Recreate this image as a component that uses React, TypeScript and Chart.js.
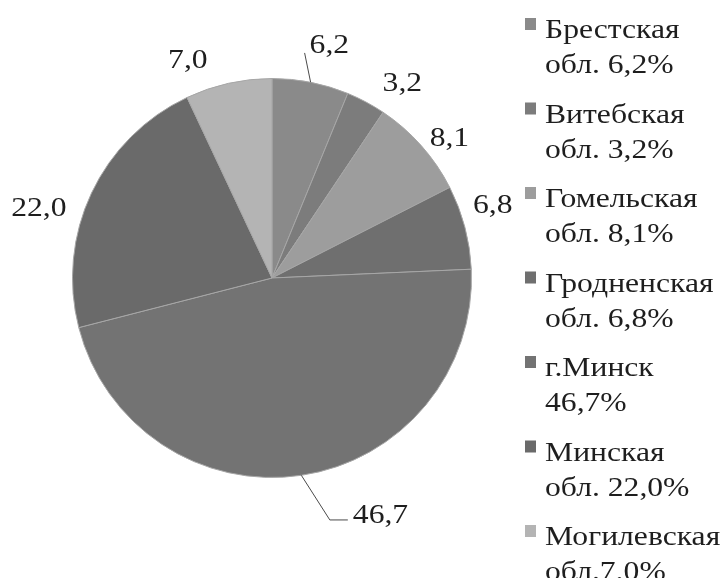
import React, { useEffect, useRef } from "react";
import { Chart, registerables } from "chart.js";

Chart.register(...registerables);

const categories = [
  "Брестская обл.",
  "Витебская обл.",
  "Гомельская обл.",
  "Гродненская обл.",
  "г.Минск",
  "Минская обл.",
  "Могилевская обл.",
];
const shares = [6.2, 3.2, 8.1, 6.8, 46.7, 22.0, 7.0];
const legendLines = [
  ["Брестская", "обл. 6,2%"],
  ["Витебская", "обл. 3,2%"],
  ["Гомельская", "обл. 8,1%"],
  ["Гродненская", "обл. 6,8%"],
  ["г.Минск", "46,7%"],
  ["Минская", "обл. 22,0%"],
  ["Могилевская", "обл.7,0%"],
];

// styling
const sliceColors = ["#8a8a8a", "#7c7c7c", "#9d9d9d", "#6f6f6f", "#737373", "#6a6a6a", "#b4b4b4"];
const labelNudges = [
  [12, -5],
  [20, 10],
  [2, 14],
  [-6, -15],
  [74, 3],
  [-21, 28],
  [-33, 9],
];
const leaderKinds = ["straight", "", "", "", "elbow", "", ""];
const FONT = '28px "Liberation Serif", "Times New Roman", serif';
const SX = 1.13;

const labelPlugin = {
  id: "pieLabels",
  afterDatasetsDraw(chart: any) {
    const ctx = chart.ctx as CanvasRenderingContext2D;
    const meta = chart.getDatasetMeta(0);
    const data = chart.data.datasets[0].data as number[];
    ctx.save();
    ctx.font = FONT;
    ctx.fillStyle = "#1e1e1e";
    ctx.strokeStyle = "#4a4a4a";
    ctx.lineWidth = 1;
    meta.data.forEach((arc: any, i: number) => {
      const { x, y, startAngle, endAngle, outerRadius } = arc.getProps(
        ["x", "y", "startAngle", "endAngle", "outerRadius"],
        true
      );
      const mid = (startAngle + endAngle) / 2;
      const cx = x + Math.cos(mid) * (outerRadius + 35) + labelNudges[i][0];
      const cy = y + Math.sin(mid) * (outerRadius + 35) + labelNudges[i][1];
      const text = data[i].toFixed(1).replace(".", ",");
      const w = ctx.measureText(text).width * SX;
      const ax = x + Math.cos(mid) * outerRadius;
      const ay = y + Math.sin(mid) * outerRadius;
      if (leaderKinds[i] === "straight") {
        ctx.beginPath();
        ctx.moveTo(ax, ay);
        ctx.lineTo(cx - w / 2 - 5, cy + 10);
        ctx.stroke();
      } else if (leaderKinds[i] === "elbow") {
        const ey = cy + 7;
        ctx.beginPath();
        ctx.moveTo(ax, ay);
        ctx.lineTo(cx - w / 2 - 23, ey);
        ctx.lineTo(cx - w / 2 - 5, ey);
        ctx.stroke();
      }
      ctx.save();
      ctx.translate(cx, cy + 10);
      ctx.scale(SX, 1);
      ctx.textAlign = "center";
      ctx.textBaseline = "alphabetic";
      ctx.fillText(text, 0, 0);
      ctx.restore();
    });
    ctx.restore();
  },
};

const legendPlugin = {
  id: "sideLegend",
  afterDraw(chart: any) {
    const ctx = chart.ctx as CanvasRenderingContext2D;
    const colors = chart.data.datasets[0].backgroundColor as string[];
    ctx.save();
    ctx.font = FONT;
    ctx.fillStyle = "#1e1e1e";
    legendLines.forEach((lines, i) => {
      const base = 38 + 84.5 * i;
      ctx.fillStyle = colors[i];
      ctx.fillRect(525, base - 20, 11, 12);
      ctx.fillStyle = "#1e1e1e";
      lines.forEach((t, j) => {
        ctx.save();
        ctx.translate(545, base + j * 35);
        ctx.scale(SX, 1);
        ctx.textAlign = "left";
        ctx.textBaseline = "alphabetic";
        ctx.fillText(t, 0, 0);
        ctx.restore();
      });
    });
    ctx.restore();
  },
};

export default function App() {
  const ref = useRef<HTMLCanvasElement | null>(null);
  useEffect(() => {
    document.body.style.margin = "0";
    document.body.style.background = "#ffffff";
    const chart = new Chart(ref.current!, {
      type: "pie",
      data: {
        labels: categories,
        datasets: [
          {
            data: shares,
            backgroundColor: sliceColors,
            borderColor: "#a6a6a6",
            borderWidth: 1,
          },
        ],
      },
      options: {
        responsive: false,
        animation: false,
        devicePixelRatio: 1,
        layout: { padding: { left: 72, right: 254, top: 78, bottom: 100 } },
        plugins: { legend: { display: false }, tooltip: { enabled: false } },
      },
      plugins: [labelPlugin, legendPlugin],
    });
    return () => chart.destroy();
  }, []);
  return (
    <div style={{ width: 726, height: 578, background: "#fff" }}>
      <canvas ref={ref} width={726} height={578} style={{ display: "block" }} />
    </div>
  );
}
